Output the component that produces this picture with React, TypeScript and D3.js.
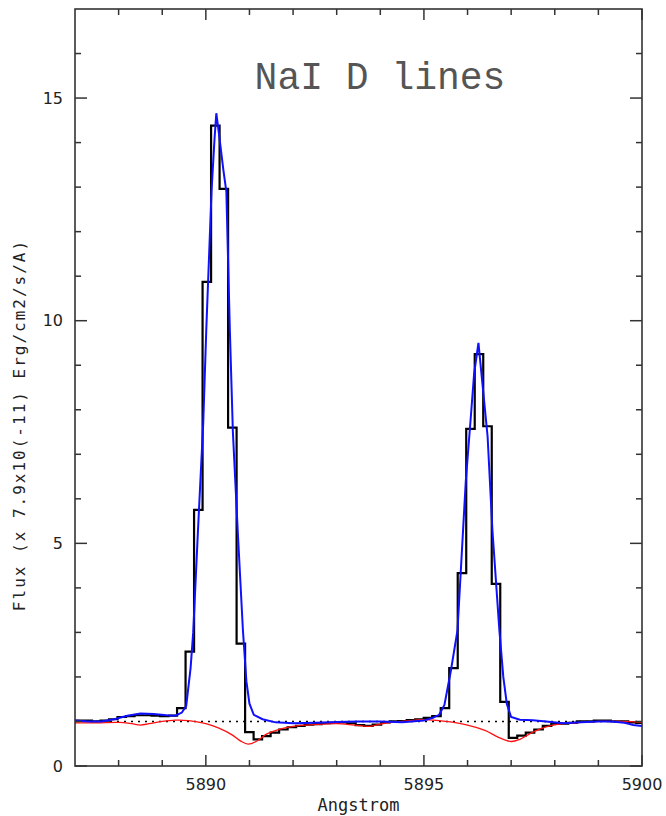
import React from "react";
import * as d3 from "d3";

// observed spectrum, binned (Angstrom start + fixed bin width)
const binStart = 5887.0;
const binWidth = 0.195;
const observedFlux = [
  1.02, 1.02, 1.0, 1.02, 1.05, 1.1, 1.12, 1.14, 1.14, 1.13, 1.12, 1.13, 1.3,
  2.57, 5.75, 10.87, 14.38, 12.96, 7.6, 2.75, 0.76, 0.6, 0.67, 0.75, 0.82,
  0.87, 0.9, 0.93, 0.94, 0.96, 0.97, 0.98, 0.96, 0.92, 0.9, 0.93, 0.98, 1.0,
  1.01, 1.03, 1.05, 1.08, 1.12, 1.3, 2.2, 4.33, 7.57, 9.25, 7.63, 4.09, 1.44,
  0.63, 0.68, 0.75, 0.82, 0.9, 0.95, 0.95, 0.97, 1.0, 1.0, 1.02, 1.02, 1.0,
  1.0, 0.98, 0.97,
];

// fitted emission model (blue)
const fitWave = [
  5887.0, 5887.3, 5887.6, 5887.9, 5888.2, 5888.5, 5888.8, 5889.1, 5889.3,
  5889.45, 5889.55, 5889.65, 5889.71, 5889.82, 5889.94, 5890.01, 5890.13,
  5890.2, 5890.24, 5890.3, 5890.4, 5890.47, 5890.55, 5890.62, 5890.73,
  5890.85, 5890.93, 5891.0, 5891.1, 5891.3, 5891.6, 5892.0, 5892.5, 5893.0,
  5893.5, 5894.0, 5894.5, 5895.0, 5895.2, 5895.35, 5895.47, 5895.62, 5895.77,
  5895.96, 5896.08, 5896.15, 5896.25, 5896.34, 5896.46, 5896.57, 5896.73,
  5896.82, 5896.9, 5897.0, 5897.2, 5897.5, 5897.8, 5898.2, 5898.6, 5899.0,
  5899.3, 5899.6, 5899.8, 5900.0,
];
const fitFlux = [
  1.02, 1.0, 1.0, 1.05, 1.13, 1.18, 1.17, 1.14, 1.13, 1.2, 1.35, 2.2, 3.0,
  5.3, 7.7, 9.8, 12.9, 14.1, 14.66, 14.2, 13.4, 12.9, 9.8, 7.5, 5.3, 3.05,
  1.9, 1.4, 1.15, 1.05, 0.98, 0.96, 0.97, 0.99, 1.0, 1.0, 0.98, 1.02, 1.08,
  1.15, 1.37, 2.15, 3.05, 6.4, 7.9, 8.8, 9.5, 8.6, 7.4, 5.3, 3.05, 2.0, 1.4,
  1.1, 1.04, 1.03, 1.0, 0.96, 0.98, 1.0, 1.0, 0.97, 0.92, 0.9,
];

// absorption component (red)
const absWave = [
  5887.0, 5887.5, 5888.0, 5888.3, 5888.5, 5888.7, 5889.0, 5889.3, 5889.6,
  5890.0, 5890.3, 5890.6, 5890.8, 5890.97, 5891.15, 5891.4, 5891.7, 5892.0,
  5892.5, 5893.0, 5893.4, 5893.75, 5894.1, 5894.5, 5895.0, 5895.5, 5896.0,
  5896.4, 5896.7, 5897.0, 5897.2, 5897.5, 5897.8, 5898.1, 5898.5, 5899.0,
  5899.5, 5900.0,
];
const absFlux = [
  0.97, 0.97, 0.98, 0.95, 0.92, 0.95, 1.0, 1.03, 1.02, 0.95, 0.85, 0.7, 0.56,
  0.49, 0.55, 0.72, 0.83, 0.89, 0.93, 0.95, 0.92, 0.89, 0.96, 1.0, 1.04, 1.0,
  0.92, 0.8, 0.65, 0.55, 0.6, 0.76, 0.88, 0.94, 0.97, 1.0, 1.0, 0.98,
];

const continuum = 1.0;
const xMajor = [5890, 5895, 5900];
const yMajor = [0, 5, 10, 15];

const W = 666;
const H = 816;
const left = 75;
const right = 642;
const top = 9;
const bottom = 766;
const axisColor = "#333";

export default function App() {
  const x = d3.scaleLinear().domain([5887, 5900]).range([left, right]);
  const y = d3.scaleLinear().domain([0, 17]).range([bottom, top]);

  const histPts: [number, number][] = observedFlux.map((v, i) => [
    binStart + i * binWidth,
    v,
  ]);
  histPts.push([5900, observedFlux[observedFlux.length - 1]]);

  const step = d3
    .line<[number, number]>()
    .x((d) => x(d[0]))
    .y((d) => y(d[1]))
    .curve(d3.curveStepAfter);

  const fitLine = d3
    .line<number>()
    .x((d) => x(d))
    .y((_, i) => y(fitFlux[i]));

  const absLine = d3
    .line<number>()
    .x((d) => x(d))
    .y((_, i) => y(absFlux[i]))
    .curve(d3.curveCatmullRom);

  const xMinor = d3.range(5888, 5900).filter((v) => !xMajor.includes(v));
  const yMinor = d3.range(1, 17).filter((v) => !yMajor.includes(v));

  return (
    <div>
      <style>{`body{margin:0}`}</style>
      <svg width={W} height={H} style={{ display: "block", background: "#fff" }}>
        <defs>
          <clipPath id="plot">
            <rect x={left} y={top} width={right - left} height={bottom - top} />
          </clipPath>
        </defs>

        <g clipPath="url(#plot)">
          <line
            x1={x(5887)}
            x2={x(5900)}
            y1={y(continuum)}
            y2={y(continuum)}
            stroke="#000"
            strokeWidth={1.5}
            strokeDasharray="2,5"
          />
          <path d={step(histPts) || ""} fill="none" stroke="#000" strokeWidth={2.2} />
          <path d={absLine(absWave) || ""} fill="none" stroke="#ff1010" strokeWidth={1.3} />
          <path d={fitLine(fitWave) || ""} fill="none" stroke="#1010ff" strokeWidth={2} />
        </g>

        {/* frame */}
        <rect
          x={left}
          y={top}
          width={right - left}
          height={bottom - top}
          fill="none"
          stroke={axisColor}
          strokeWidth={1.6}
        />

        {/* x ticks, bottom and top, pointing inward */}
        {xMajor.concat(xMinor).map((v) => {
          const len = xMajor.includes(v) ? 11 : 6;
          return (
            <g key={"xt" + v} stroke={axisColor} strokeWidth={1.5}>
              <line x1={x(v)} x2={x(v)} y1={bottom} y2={bottom - len} />
              <line x1={x(v)} x2={x(v)} y1={top} y2={top + len} />
            </g>
          );
        })}
        {/* y ticks, left and right */}
        {yMajor.concat(yMinor).map((v) => {
          const len = yMajor.includes(v) ? 12 : 6;
          return (
            <g key={"yt" + v} stroke={axisColor} strokeWidth={1.5}>
              <line x1={left} x2={left + len} y1={y(v)} y2={y(v)} />
              <line x1={right} x2={right - len} y1={y(v)} y2={y(v)} />
            </g>
          );
        })}

        {xMajor.map((v) => (
          <text
            key={"xl" + v}
            x={x(v)}
            y={790}
            textAnchor="middle"
            fontFamily="DejaVu Sans"
            fontSize={16}
            fill="#222"
          >
            {v}
          </text>
        ))}
        {yMajor.map((v) => (
          <text
            key={"yl" + v}
            x={63}
            y={y(v)}
            textAnchor="end"
            dominantBaseline="central"
            fontFamily="DejaVu Sans"
            fontSize={16}
            fill="#222"
          >
            {v}
          </text>
        ))}

        <text
          x={(left + right) / 2}
          y={811}
          textAnchor="middle"
          fontFamily="DejaVu Sans Mono"
          fontSize={17}
          fill="#222"
        >
          Angstrom
        </text>
        <text
          transform={`translate(25,${425}) rotate(-90)`}
          textAnchor="middle"
          fontFamily="DejaVu Sans Mono"
          fontSize={16}
          letterSpacing={2}
          fill="#222"
        >
          Flux (x 7.9x10(-11) Erg/cm2/s/A)
        </text>

        <text
          x={380}
          y={89}
          textAnchor="middle"
          fontFamily="Liberation Mono"
          fontSize={38}
          fill="#555"
        >
          NaI D lines
        </text>
      </svg>
    </div>
  );
}
